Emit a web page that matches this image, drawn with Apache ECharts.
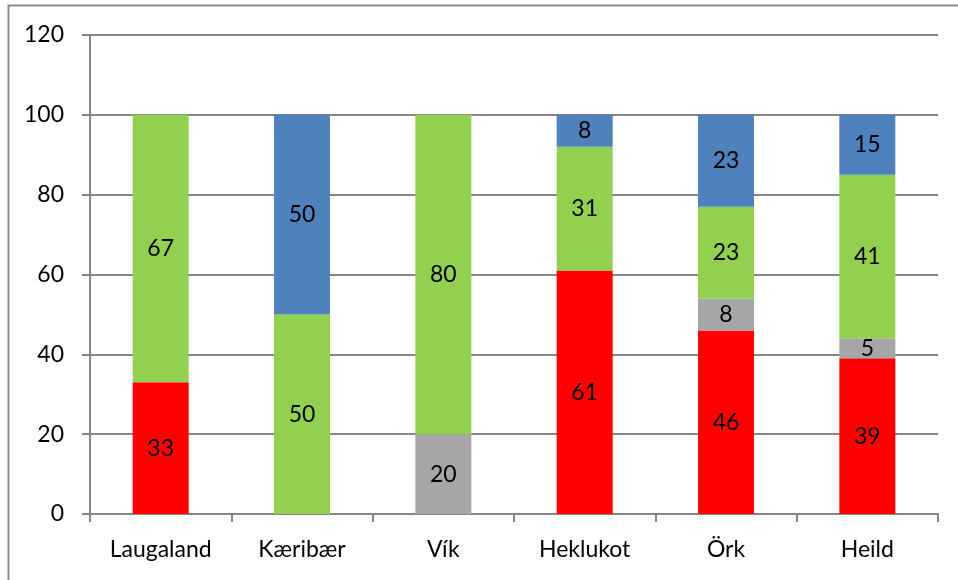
<!DOCTYPE html>
<html><head><meta charset="utf-8">
<script src="https://cdn.jsdelivr.net/npm/echarts@6/dist/echarts.min.js"></script>
<style>html,body{margin:0;padding:0;background:#fff}#c{width:958px;height:580px}</style>
</head><body><div id="c"></div>
<script>
const categories = ['Laugaland', 'Kæribær', 'Vík', 'Heklukot', 'Örk', 'Heild'];
const redValues = [33, 0, 0, 61, 46, 39];
const grayValues = [0, 0, 20, 0, 8, 5];
const greenValues = [67, 50, 80, 31, 23, 41];
const blueValues = [0, 50, 0, 8, 23, 15];
const yTicks = [0, 20, 40, 60, 80, 100, 120];

const FONT = 'Lato, Carlito, "Liberation Sans", sans-serif';
const chart = echarts.init(document.getElementById('c'));
function mk(name, data, color) {
  return {
    name, type: 'bar', stack: 's', barWidth: 56, data: data.map(v => v === 0 ? null : v),
    itemStyle: { color },
    label: { show: true, position: 'inside', color: '#000', fontSize: 23, fontFamily: FONT,
             formatter: p => p.value }
  };
}
chart.setOption({
  animation: false,
  grid: { left: 90, right: 20, top: 35, bottom: 66 },
  graphic: [{ type: 'rect', shape: { x: 8.5, y: 5.5, width: 1000, height: 1000 },
              style: { fill: 'none', stroke: '#8c8c8c', lineWidth: 2 }, silent: true }],
  xAxis: {
    type: 'category', data: categories,
    axisLine: { lineStyle: { color: '#868686', width: 2 } },
    axisTick: { show: true, length: 8, lineStyle: { color: '#868686', width: 2 } },
    axisLabel: { color: '#000', fontSize: 23, fontFamily: FONT, margin: 24 }
  },
  yAxis: {
    type: 'value', min: yTicks[0], max: yTicks[yTicks.length - 1], interval: 20,
    axisLine: { show: true, lineStyle: { color: '#868686', width: 2 } },
    axisTick: { show: true, length: 8, lineStyle: { color: '#868686', width: 2 } },
    splitLine: { lineStyle: { color: '#868686', width: 2 } },
    axisLabel: { color: '#000', fontSize: 23, fontFamily: FONT, margin: 26 }
  },
  series: [
    mk('Red', redValues, '#ff0000'),
    mk('Gray', grayValues, '#a6a6a6'),
    mk('Green', greenValues, '#92d050'),
    mk('Blue', blueValues, '#4f81bd')
  ]
});
</script></body></html>
